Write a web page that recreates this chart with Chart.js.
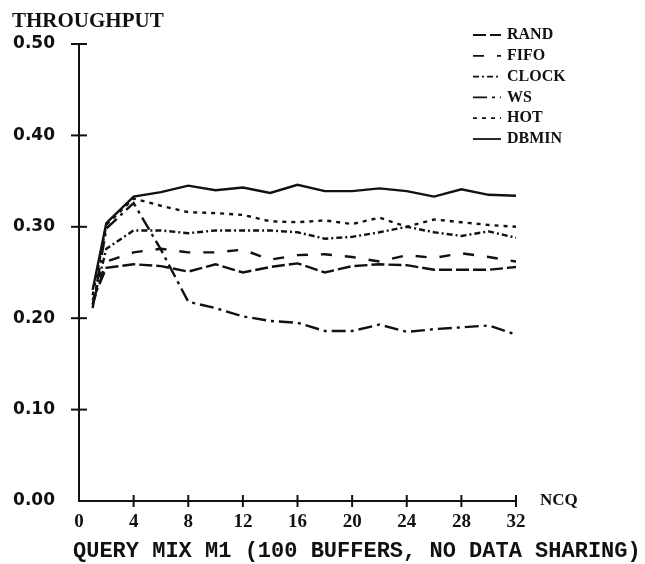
<!DOCTYPE html>
<html>
<head>
<meta charset="utf-8">
<script src="https://cdn.jsdelivr.net/npm/chart.js@4/dist/chart.umd.min.js"></script>
<style>
  body { margin: 0; background: #fff; }
  #wrap { width: 645px; height: 564px; }
</style>
</head>
<body>
<div id="wrap"><canvas id="chart"></canvas></div>
<script>
const ncq = [1, 2, 4, 6, 8, 10, 12, 14, 16, 18, 20, 22, 24, 26, 28, 30, 32];

const rand  = [0.220, 0.255, 0.259, 0.257, 0.251, 0.259, 0.250, 0.256, 0.260, 0.250, 0.257, 0.259, 0.258, 0.253, 0.253, 0.253, 0.256];
const fifo  = [0.215, 0.262, 0.272, 0.276, 0.272, 0.272, 0.275, 0.264, 0.269, 0.270, 0.267, 0.262, 0.269, 0.266, 0.271, 0.267, 0.262];
const clock = [0.215, 0.276, 0.296, 0.296, 0.293, 0.296, 0.296, 0.296, 0.294, 0.287, 0.289, 0.294, 0.300, 0.294, 0.290, 0.295, 0.288];
const ws    = [0.211, 0.298, 0.326, 0.275, 0.218, 0.211, 0.202, 0.197, 0.195, 0.186, 0.186, 0.193, 0.185, 0.188, 0.190, 0.192, 0.182];
const hot   = [0.225, 0.302, 0.331, 0.323, 0.316, 0.315, 0.313, 0.306, 0.305, 0.307, 0.303, 0.310, 0.300, 0.308, 0.305, 0.302, 0.300];
const dbmin = [0.231, 0.304, 0.333, 0.338, 0.345, 0.340, 0.343, 0.337, 0.346, 0.339, 0.339, 0.342, 0.339, 0.333, 0.341, 0.335, 0.334];

const xTicks = [0, 4, 8, 12, 16, 20, 24, 28, 32];
const yTicks = [0.0, 0.1, 0.2, 0.3, 0.4, 0.5];

const ink = "#111";

function series(label, values, dash) {
  return {
    label: label,
    data: values.map((v, i) => ({ x: ncq[i], y: v })),
    borderColor: ink,
    borderWidth: 2.4,
    borderDash: dash,
    pointRadius: 0,
    tension: 0,
    fill: false,
  };
}

// cross ticks, legend and loose texts
const decor = {
  id: "decor",
  afterDraw(chart) {
    const ctx = chart.ctx;
    const xs = chart.scales.x;
    const ys = chart.scales.y;
    const area = chart.chartArea;
    ctx.save();
    ctx.strokeStyle = ink;
    ctx.fillStyle = ink;
    ctx.lineWidth = 2;
    ctx.setLineDash([]);

    yTicks.forEach(t => {
      if (t === 0) return;
      const py = ys.getPixelForValue(t);
      ctx.beginPath();
      ctx.moveTo(area.left - 8, py);
      ctx.lineTo(area.left + 8, py);
      ctx.stroke();
    });
    xTicks.forEach(t => {
      if (t === 0) return;
      const px = xs.getPixelForValue(t);
      ctx.beginPath();
      ctx.moveTo(px, area.bottom - 6);
      ctx.lineTo(px, area.bottom + 6);
      ctx.stroke();
    });

    ctx.font = "bold 21px 'Liberation Serif'";
    ctx.textAlign = "left";
    ctx.textBaseline = "alphabetic";
    ctx.fillText("THROUGHPUT", 12, 27);

    ctx.font = "bold 17px 'Liberation Serif'";
    ctx.textBaseline = "middle";
    ctx.fillText("NCQ", area.right + 24, area.bottom);

    ctx.font = "bold 22px 'Liberation Mono'";
    ctx.textBaseline = "alphabetic";
    ctx.fillText("QUERY MIX M1 (100 BUFFERS, NO DATA SHARING)", 73, 557);

    // legend
    ctx.font = "bold 16px 'Liberation Serif'";
    ctx.textBaseline = "middle";
    chart.data.datasets.forEach((ds, i) => {
      const yy = 35 + i * 20.8;
      ctx.lineWidth = 1.8;
      ctx.setLineDash(ds.borderDash || []);
      ctx.beginPath();
      ctx.moveTo(473, yy);
      ctx.lineTo(501, yy);
      ctx.stroke();
      ctx.setLineDash([]);
      ctx.fillText(ds.label, 507, yy);
    });
    ctx.restore();
  }
};

new Chart(document.getElementById("chart"), {
  type: "line",
  data: {
    datasets: [
      series("RAND", rand, [13, 4]),
      series("FIFO", fifo, [11, 13]),
      series("CLOCK", clock, [6, 3, 2, 3]),
      series("WS", ws, [14, 5, 3, 5]),
      series("HOT", hot, [4, 5]),
      series("DBMIN", dbmin, []),
    ],
  },
  options: {
    responsive: true,
    maintainAspectRatio: false,
    animation: false,
    layout: { padding: { left: 0, right: 129, top: 44, bottom: 0 } },
    plugins: {
      legend: { display: false },
      tooltip: { enabled: false },
    },
    scales: {
      x: {
        type: "linear",
        min: 0,
        max: 32,
        afterFit: s => { s.height = 63; },
        afterBuildTicks: s => { s.ticks = xTicks.map(v => ({ value: v })); },
        grid: { display: false, drawTicks: false },
        border: { display: true, color: ink, width: 2 },
        ticks: {
          color: ink,
          padding: 10,
          maxRotation: 0,
          font: { family: "'Liberation Serif'", size: 19, weight: "bold" },
        },
      },
      y: {
        min: 0,
        max: 0.5,
        afterFit: s => { s.width = 79; },
        afterBuildTicks: s => { s.ticks = yTicks.map(v => ({ value: v })); },
        grid: { display: false, drawTicks: false },
        border: { display: true, color: ink, width: 2 },
        ticks: {
          color: ink,
          padding: 24,
          callback: v => v.toFixed(2),
          font: { family: "'DejaVu Sans'", size: 17, weight: "bold" },
        },
      },
    },
  },
  plugins: [decor],
});
</script>
</body>
</html>
